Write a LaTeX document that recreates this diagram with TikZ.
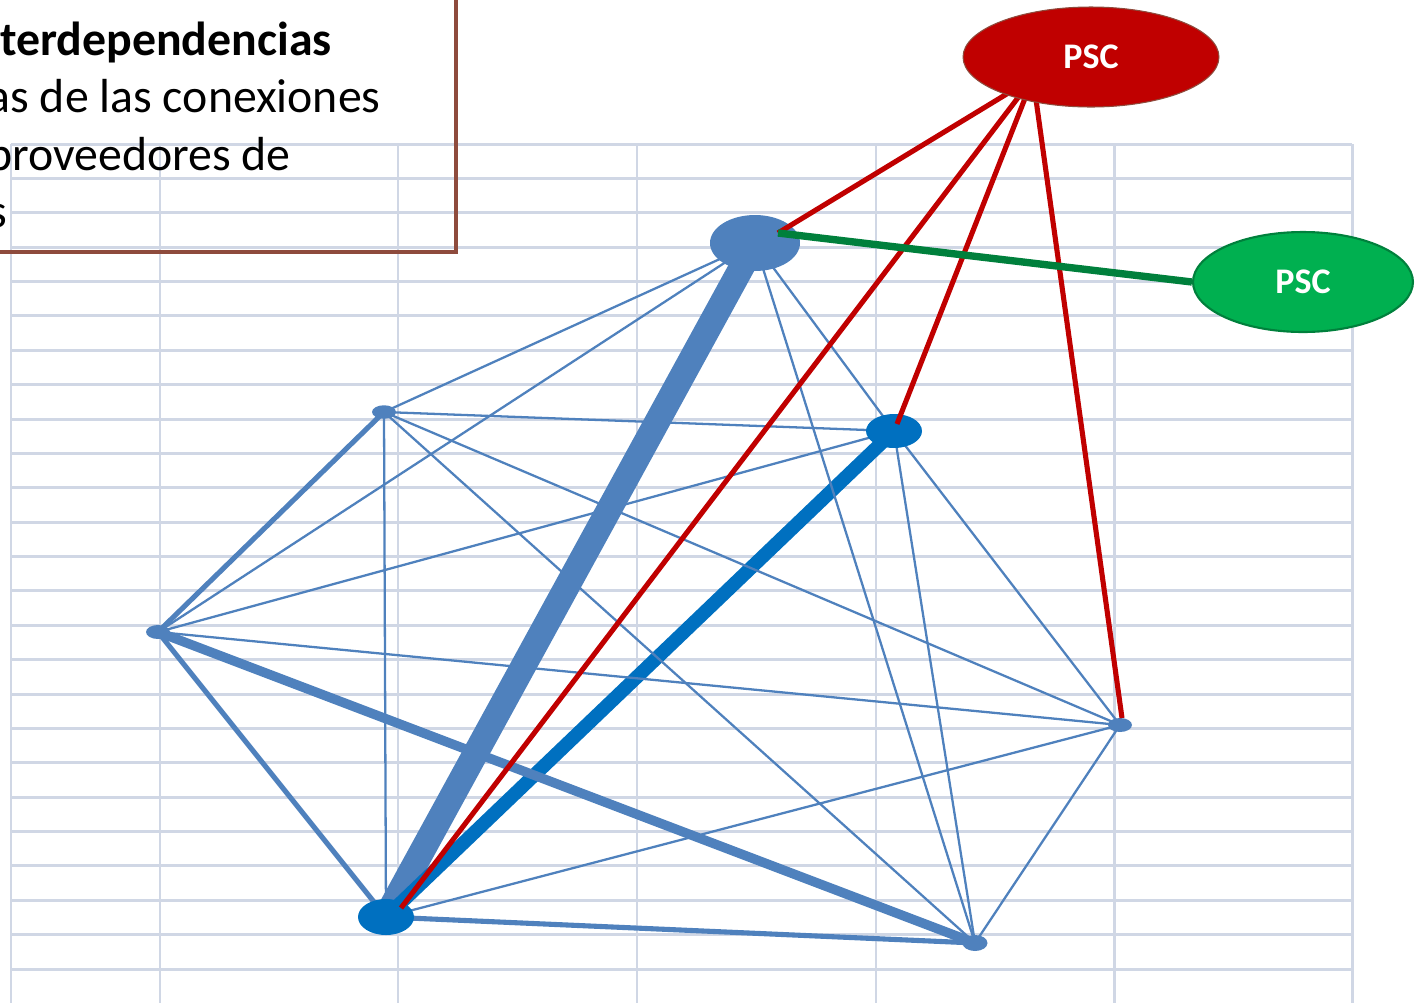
\documentclass[tikz,border=0pt]{standalone}
\usepackage{fontspec}
\setmainfont{Carlito}
\usepackage{xcolor}
\usetikzlibrary{shapes.geometric}
\definecolor{steel}{HTML}{4F81BD}
\definecolor{ocean}{HTML}{0070C0}
\definecolor{gridc}{HTML}{D0D7E5}
\definecolor{framec}{HTML}{8E4B3D}
\definecolor{pscred}{HTML}{C00000}
\definecolor{pscgreen}{HTML}{00B050}
\definecolor{linkgreen}{HTML}{00803C}
\pgfdeclarelayer{back}
\pgfdeclarelayer{edges}
\pgfdeclarelayer{dots}
\pgfdeclarelayer{links}
\pgfsetlayers{back,edges,dots,links,main}

\begin{document}
\begin{tikzpicture}[x=0.02cm,y=-0.02cm,
        gridline/.style={draw=gridc,line width=1.7pt},
        boxline/.style={draw=framec,line width=2.2pt},
        boxtext/.style={anchor=base east,inner sep=0pt,font=\fontsize{27.2}{32}\selectfont},
        dot/.style={ellipse,fill=steel,inner sep=0pt,outer sep=0pt},
        fineedge/.style={draw=steel,line width=1.3pt},
        midedge/.style={draw=steel,line width=2.9pt},
        wideedge/.style={draw=steel,line width=5.4pt},
        bandedge/.style={draw=ocean,line width=7.8pt},
        heavyedge/.style={draw=steel,line width=14.5pt},
        redlink/.style={draw=pscred,line width=2.9pt},
        greenlink/.style={draw=linkgreen,line width=4.2pt},
        pscnode/.style={ellipse,inner sep=0pt,text=white,minimum height=2cm,
            font=\fontsize{20.5}{24}\selectfont\bfseries}]
        \useasboundingbox (0,0) rectangle (1418,1002);
        \clip (0,0) rectangle (1418,1002);

        \begin{pgfonlayer}{back}
            \foreach \k in {0,...,24}
                \draw[gridline] (11,{144+34.375*\k}) -- (1352,{144+34.375*\k});
            \foreach \gx in {11,160,398,637,876,1114,1352}
                \draw[gridline] (\gx,144) -- (\gx,1010);
            \draw[boxline] (-20,-20) rectangle (456,252);
        \end{pgfonlayer}

        \node[boxtext,font=\fontsize{27.2}{32}\selectfont\bfseries] (title) at (332,55) {terdependencias};
        \node[boxtext] (lineb) at (381,112) {as de las conexiones};
        \node[boxtext] (linec) at (291,170) {proveedores de};
        \node[boxtext] (lined) at (8,227) {s};

        \begin{pgfonlayer}{dots}
            \node[dot,minimum width=1.8cm,minimum height=1.12cm] (A) at (755,243) {};
            \node[dot,fill=ocean,minimum width=1.12cm,minimum height=0.68cm] (B) at (894,431) {};
            \node[dot,minimum width=0.48cm,minimum height=0.27cm] (C) at (384,412) {};
            \node[dot,minimum width=0.48cm,minimum height=0.28cm] (D) at (158,632) {};
            \node[dot,fill=ocean,minimum width=1.12cm,minimum height=0.72cm] (E) at (386,917) {};
            \node[dot,minimum width=0.5cm,minimum height=0.32cm] (F) at (975,943) {};
            \node[dot,minimum width=0.48cm,minimum height=0.28cm] (G) at (1120,725) {};
        \end{pgfonlayer}

        \begin{pgfonlayer}{edges}
            \draw[heavyedge] (A.center) -- (E.center);
            \draw[bandedge] (B.center) -- (E.center);
            \draw[wideedge] (D.center) -- (F.center);
            \draw[midedge] (D.center) -- (C.center);
            \draw[midedge] (D.center) -- (E.center);
            \draw[midedge] (E.center) -- (F.center);
            \foreach \p/\q in {A/C,A/D,A/B,A/F,B/C,B/D,B/F,B/G,C/E,C/F,C/G,D/G,E/G,F/G}
                \draw[fineedge] (\p.center) -- (\q.center);
        \end{pgfonlayer}

        \node[pscnode,fill=pscred,draw=framec,line width=0.6pt,minimum width=5.12cm] (psc1) at (1091,57) {PSC};
        \node[pscnode,fill=pscgreen,draw=linkgreen,line width=1.2pt,minimum width=4.4cm] (psc2) at (1303,282) {PSC};

        \coordinate (foot) at (1033,78);
        \coordinate (atip) at (778,233);
        \coordinate (btip) at (897,424);
        \coordinate (etip) at (401,908);
        \coordinate (gtip) at (1122,718);

        \begin{pgfonlayer}{links}
            \foreach \t in {atip,btip,etip,gtip}
                \draw[redlink] (foot) -- (\t);
            \draw[greenlink] (atip) -- (psc2.west);
        \end{pgfonlayer}
\end{tikzpicture}
\end{document}
